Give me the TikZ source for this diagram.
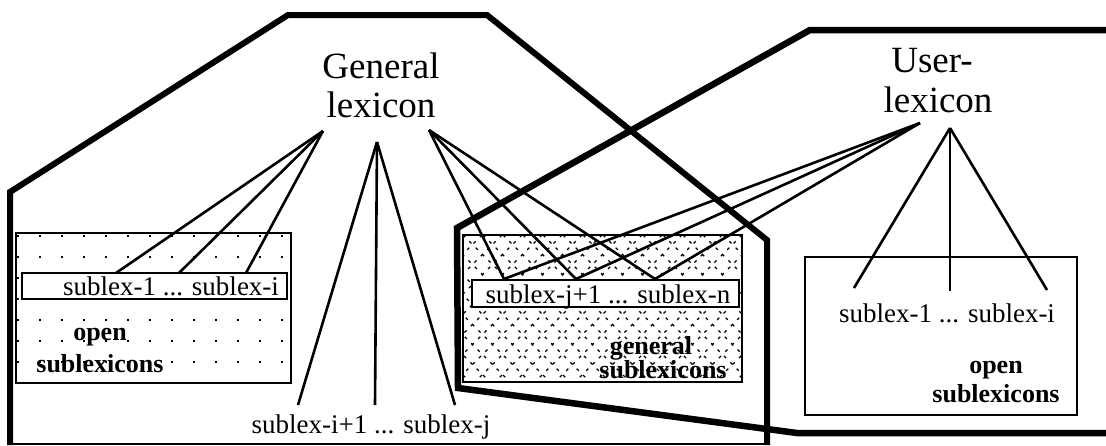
\documentclass[tikz,border=0pt]{standalone}
\usepackage{fontspec}
\setmainfont{Liberation Serif}
\begin{document}
\begin{tikzpicture}[x=1pt,y=-1pt,
  thickln/.style={line width=6pt, line join=miter},
  conn/.style={line width=2.6pt},
  boxln/.style={line width=2.4pt},
  smalltxt/.style={font=\fontsize{27}{29}\selectfont, inner sep=0pt, anchor=base},
  bigtxt/.style={font=\fontsize{37}{39}\selectfont, inner sep=0pt, anchor=base},
  boldtxt/.style={font=\bfseries\fontsize{26}{28}\selectfont, inner sep=0pt, anchor=base},
  hatch/.style={line width=1.3pt, dash pattern=on 3pt off 6pt}]
\useasboundingbox (0,0) rectangle (1106,445);

% ---------- General lexicon outline ----------
\draw[thickln] (10,445) -- (10,192) -- (288,15) -- (487,15) -- (767,240) -- (767,445);
\draw[line width=1.6pt] (10,444) -- (767,444);

% ---------- left box (dotted) ----------
\draw[boxln] (16,233) rectangle (291,383);
\foreach \yy in {235,256,...,380} {
  \foreach \xx in {17,39,...,290} {
    \fill (\xx,\yy) rectangle ++(2.2,2.2);
  }
}
\draw[boxln, fill=white] (22,273) rectangle (287,299);
\node[smalltxt] (lbt) at (171,295) {sublex-1 ... sublex-i};
\node[boldtxt] (lopen) at (100,340) {open};
\node[boldtxt] (lsub) at (100,372) {sublexicons};

% ---------- middle box (hatched) ----------
\begin{scope}
  \clip (463,235) rectangle (742,382);
  \foreach \k in {-300,-280,...,300} {
    \draw[hatch] (463+\k,235) -- ++(160,160);
    \draw[hatch] (742+\k,235) -- ++(-160,160);
  }
\end{scope}
\draw[boxln] (463,235) rectangle (742,382);
\draw[boxln, fill=white] (472,280) rectangle (739,307);
\node[smalltxt] (mbt) at (608,303) {sublex-j+1 ... sublex-n};
\node[boldtxt] (mgen) at (651,354) {general};
\node[boldtxt] (msub) at (663,378) {sublexicons};

% ---------- User lexicon outline ----------
\draw[line width=6.5pt, line join=miter] (1106,30) -- (810,30) -- (457,228) -- (458,388) -- (797,433) -- (1106,433);

% ---------- right box ----------
\draw[boxln] (805,257) rectangle (1077,415);
\node[smalltxt] (rbt) at (947,322) {sublex-1 ... sublex-i};
\node[boldtxt] (ropen) at (996,373) {open};
\node[boldtxt] (rsub) at (996,402) {sublexicons};

% ---------- titles ----------
\node[bigtxt] (gen1) at (381,78) {General};
\node[bigtxt] (gen2) at (381,117) {lexicon};
\node[bigtxt] (usr1) at (932,72) {User-};
\node[bigtxt] (usr2) at (938,112) {lexicon};

% ---------- connector anchors ----------
\coordinate (gl) at (323,131);
\coordinate (gm) at (377,142);
\coordinate (gr) at (429,130);
\coordinate (ul) at (920,123);
\coordinate (um) at (950,128);

\coordinate (l1) at (116,273);
\coordinate (l2) at (179,273);
\coordinate (l3) at (246,273);
\coordinate (c1) at (298,405);
\coordinate (c2) at (375,405);
\coordinate (c3) at (455,405);
\coordinate (m1) at (504,279);
\coordinate (m2) at (576,279);
\coordinate (m3) at (655,279);
\coordinate (r1) at (854,288);
\coordinate (r2) at (950,291);
\coordinate (r3) at (1047,290);

\foreach \t in {l1,l2,l3} \draw[conn] (gl) -- (\t);
\foreach \t in {c1,c2,c3} \draw[conn] (gm) -- (\t);
\foreach \t in {m1,m2,m3} \draw[conn] (gr) -- (\t);
\foreach \t in {m1,m2,m3} \draw[conn] (ul) -- (\t);
\foreach \t in {r1,r2,r3} \draw[conn] (um) -- (\t);

\node[smalltxt] (bot) at (371,433) {sublex-i+1 ... sublex-j};
\end{tikzpicture}
\end{document}
